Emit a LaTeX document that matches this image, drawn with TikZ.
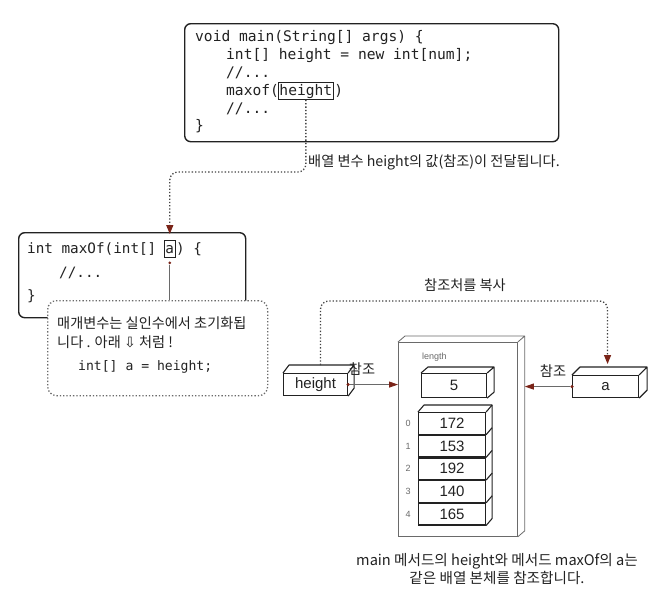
\documentclass[tikz,border=0pt]{standalone}
\usepackage{fontspec}
\setmainfont{Noto Sans CJK KR}
\setmonofont{DejaVu Sans Mono}
\newfontfamily\arialf{Liberation Sans}
\newfontfamily\djvf{DejaVu Sans}
\usetikzlibrary{arrows.meta,calc}
\definecolor{tipred}{HTML}{7A2418}
\definecolor{ink}{HTML}{222222}
\definecolor{soft}{HTML}{6A6A6A}
\newcommand{\cubefaces}[3]{%
  \draw[#3] (#1.north west) -- ++(#2) -- ($(#1.north east)+(#2)$) -- ($(#1.south east)+(#2)$) -- (#1.south east) (#1.north east) -- ++(#2);}
\begin{document}
\begin{tikzpicture}[x=1pt,y=-1pt,
  code/.style={font=\ttfamily\fontsize{14.6}{17}\selectfont, inner sep=0pt, anchor=base west, text=ink},
  codeb/.style={code, font=\ttfamily\fontsize{14.3}{17}\selectfont},
  codec/.style={code, font=\ttfamily\fontsize{13.1}{16}\selectfont},
  codebox/.style={draw=ink, line width=1.4pt, rounded corners=6pt, inner sep=0pt, anchor=north west, fill=white},
  hl/.style={draw=ink, line width=0.7pt, inner xsep=1.5pt, inner ysep=1.5pt, text height=11pt, text depth=3pt, anchor=base west},
  ko/.style={font=\fontsize{14.2}{17}\selectfont, text=ink, inner sep=0pt},
  cube/.style={draw=ink, line width=1.1pt, fill=white, inner sep=0pt, anchor=north west, font=\arialf\fontsize{15}{17}\selectfont, text=ink},
  face/.style={draw=ink, line width=1.1pt, line join=round},
  softface/.style={draw=soft, line width=0.8pt, line join=round},
  flow/.style={dotted, line width=1.3pt, draw=ink!85, rounded corners=8pt, -{Triangle[length=9pt,width=7pt,color=tipred]}},
  refline/.style={draw=soft, line width=0.9pt, -{Triangle[length=9pt,width=6pt,color=tipred]}},
  refdot/.style={circle, fill=tipred, inner sep=0pt, minimum size=3.5pt},
  idx/.style={font=\arialf\fontsize{9}{10}\selectfont, text=soft, inner sep=0pt},
]
\useasboundingbox (0,0) rectangle (671,606);
\fill[white] (0,0) rectangle (671,606);

% main code box
\node[codebox, minimum width=374pt, minimum height=118pt] (mainbox) at (184,23) {};
\node[code] (l1) at (195,41) {void main(String[] args) \{};
\node[code] (l2) at (226,59) {int[] height = new int[num];};
\node[code] (l3) at (226,77) {//...};
\node[code] (l4) at (226,95) {maxof(};
\node[code, hl] (hv) at ($(l4.base east)+(-1.5,0)$) {height};
\node[code] (l4b) at (hv.base east) {)};
\node[code] (l5) at (226,113) {//...};
\node[code] (l6) at (195,130) {\}};

\node[ko, anchor=west] (lbl1) at (308,162) {배열 변수 height의 값(참조)이 전달됩니다.};

% maxOf box
\node[codebox, minimum width=227pt, minimum height=85pt] (mbox) at (18,232) {};
\node[codeb] (m1) at (27,253) {int maxOf(int[]};
\node[codeb, hl] (pa) at ($(m1.base east)+(7.1,0)$) {a};
\node[codeb] (m1b) at (pa.base east) {) \{};
\node[codeb] (m2) at (59,277) {//...};
\node[codeb] (m3) at (27,300) {\}};

\coordinate (t1) at (0,172);
\draw[flow] (hv.south) -- (hv.south |- t1) -- (pa.north |- t1) -- ($(pa.north |- mbox.north)+(0,2)$);

\node[refdot, minimum size=3pt] (pdot) at ($(pa.south)+(0,5)$) {};
\draw[soft, line width=0.7pt] (pdot) -- (pdot |- 0,300);

% note
\node[draw=soft, dotted, line width=1.3pt, rounded corners=9pt, fill=white, minimum width=220pt, minimum height=95pt, anchor=north west] (note) at (47,300) {};
\node[ko, anchor=base west] (n1) at (57,328) {매개변수는 실인수에서 초기화됩};
\node[ko, anchor=base west] (n2) at (57,347) {니다 . 아래 {\djvf ⇩} 처럼 !};
\node[codec] (n3) at (78,370) {int[] a = height;};

% array body
\node[draw=soft, line width=0.8pt, fill=white, inner sep=0pt, anchor=north west, minimum width=119pt, minimum height=194pt] (arr) at (398,342) {};
\cubefaces{arr}{7,-6}{softface}
\node[idx, anchor=west] (len) at (422,357) {length};
\node[cube, minimum width=65pt, minimum height=24pt] (five) at (421,373) {5};
\cubefaces{five}{7,-6}{face}

\node[cube, minimum width=67pt, minimum height=21.6pt] (c0) at (418,412) {172};
\node[cube, minimum width=67pt, minimum height=21.6pt] (c1) at (c0.south west) {153};
\node[cube, minimum width=67pt, minimum height=21.6pt] (c2) at (c1.south west) {192};
\node[cube, minimum width=67pt, minimum height=21.6pt] (c3) at (c2.south west) {140};
\node[cube, minimum width=67pt, minimum height=21.6pt] (c4) at (c3.south west) {165};
\draw[face] (c0.north west) -- ++(6,-7) -- ($(c0.north east)+(6,-7)$) -- ($(c4.south east)+(6,-7)$) -- (c4.south east);
\draw[face] (c0.north east) -- ++(6,-7);
\foreach \i in {0,...,3} {\draw[face] (c\i.south east) -- ++(6,-7);}
\foreach \i in {0,...,4} {\node[idx] (ix\i) at ($(c\i.west)+(-10,0)$) {\i};}

% reference variables
\node[cube, minimum width=64pt, minimum height=22pt] (hgt) at (283,373) {height};
\cubefaces{hgt}{6,-8}{face}
\node[cube, minimum width=66pt, minimum height=22pt] (abox) at (572,375) {a};
\cubefaces{abox}{8,-8}{face}

\node[refdot] (hdot) at (hgt.east) {};
\draw[refline] (hdot) -- (hdot -| arr.west);
\node[ko] (r1) at (362,369) {참조};
\node[refdot] (adot) at (abox.west) {};
\draw[refline] (adot) -- ($(adot -| arr.east)+(7,0)$);
\node[ko] (r2) at (553,371) {참조};

\coordinate (hs) at ($(hgt.north)+(5,-8)$);
\coordinate (ae) at ($(abox.north)+(2,-11)$);
\coordinate (t2) at (0,301);
\draw[flow] (hs) -- (hs |- t2) -- (ae |- t2) -- (ae);
\node[ko] (copy) at (465,285) {참조처를 복사};

\node[ko, align=center, font=\fontsize{14.6}{18}\selectfont] (cap) at (497,569) {main 메서드의 height와 메서드 maxOf의 a는\\같은 배열 본체를 참조합니다.};
\end{tikzpicture}
\end{document}
